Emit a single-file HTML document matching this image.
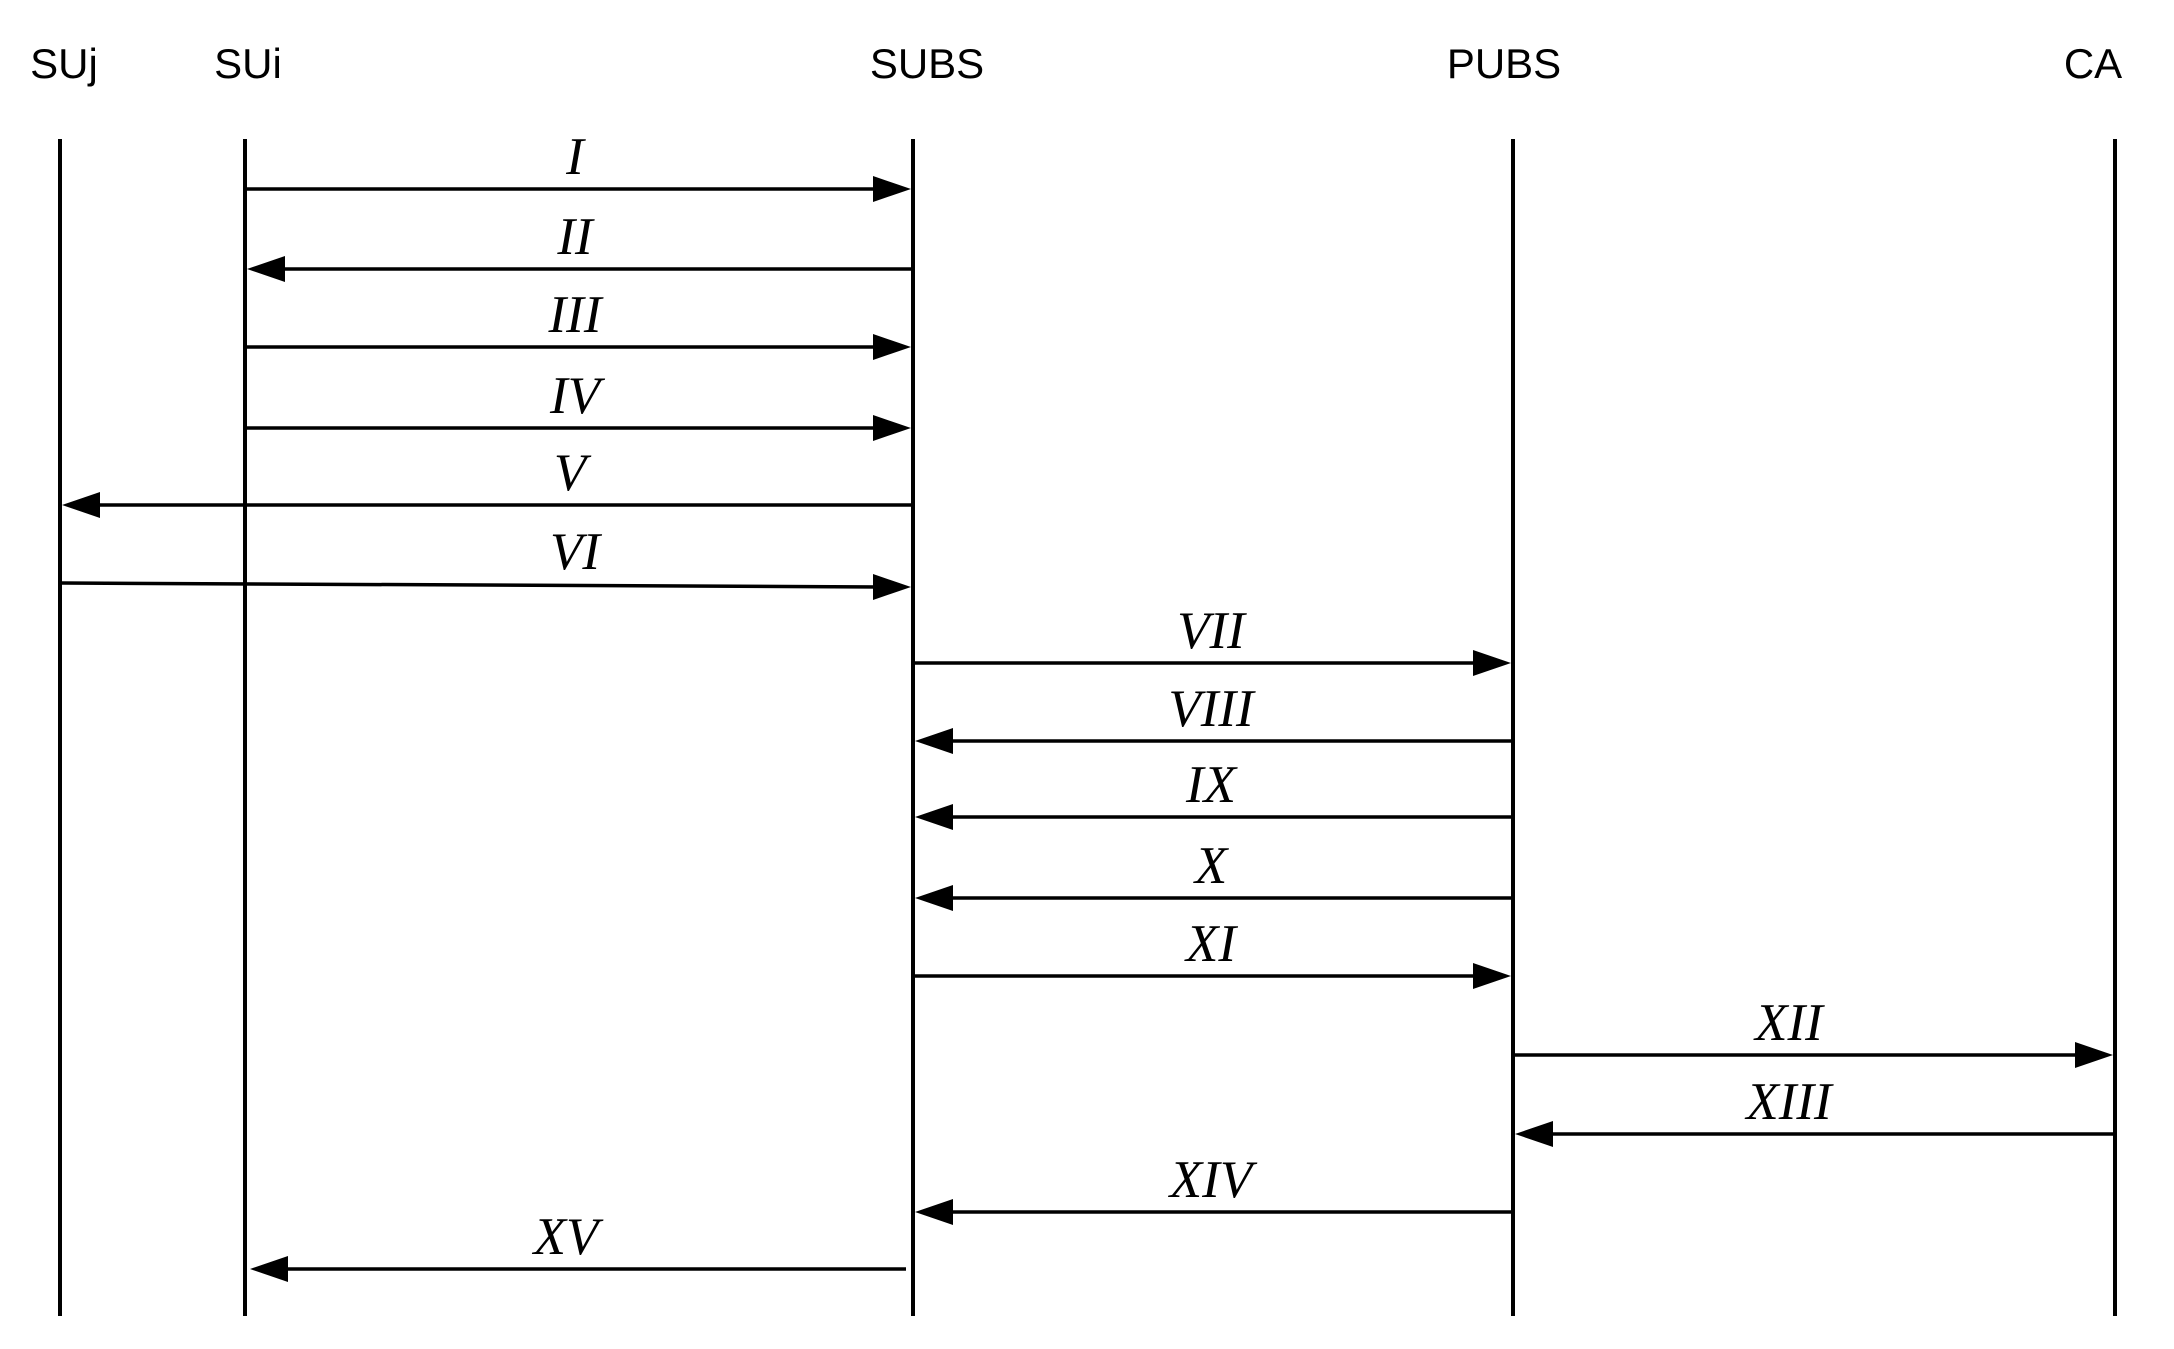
<!DOCTYPE html>
<html><head><meta charset="utf-8"><style>
html,body{margin:0;padding:0;background:#fff;}
svg{display:block;}
.h{font-family:"Liberation Sans",sans-serif;font-size:42px;text-anchor:middle;fill:#000;}
.r{font-family:"Liberation Serif",serif;font-style:italic;font-size:53px;text-anchor:middle;fill:#000;}
</style></head><body>
<svg width="2174" height="1349" viewBox="0 0 2174 1349" xmlns="http://www.w3.org/2000/svg">
<rect width="2174" height="1349" fill="#fff"/>
<text class="h" x="64" y="78">SUj</text>
<text class="h" x="248" y="78">SUi</text>
<text class="h" x="927" y="78">SUBS</text>
<text class="h" x="1504" y="78">PUBS</text>
<text class="h" x="2093" y="78">CA</text>
<g stroke="#000" stroke-width="4">
<line x1="60" y1="139" x2="60" y2="1316"/>
<line x1="245" y1="139" x2="245" y2="1316"/>
<line x1="913" y1="139" x2="913" y2="1316"/>
<line x1="1513" y1="139" x2="1513" y2="1316"/>
<line x1="2115" y1="139" x2="2115" y2="1316"/>
</g>
<g stroke="#000" stroke-width="3.5">
<line x1="245" y1="189" x2="880" y2="189"/>
<line x1="280" y1="269" x2="911" y2="269"/>
<line x1="245" y1="347" x2="880" y2="347"/>
<line x1="245" y1="428" x2="880" y2="428"/>
<line x1="95" y1="505" x2="911" y2="505"/>
<line x1="62" y1="583" x2="880" y2="587"/>
<line x1="913" y1="663" x2="1480" y2="663"/>
<line x1="948" y1="741" x2="1511" y2="741"/>
<line x1="948" y1="817" x2="1511" y2="817"/>
<line x1="948" y1="898" x2="1511" y2="898"/>
<line x1="913" y1="976" x2="1480" y2="976"/>
<line x1="1513" y1="1055" x2="2080" y2="1055"/>
<line x1="1548" y1="1134" x2="2113" y2="1134"/>
<line x1="948" y1="1212" x2="1511" y2="1212"/>
<line x1="283" y1="1269" x2="906" y2="1269"/>
</g>
<g fill="#000">
<polygon points="911,189 873,176 873,202"/>
<polygon points="247,269 285,256 285,282"/>
<polygon points="911,347 873,334 873,360"/>
<polygon points="911,428 873,415 873,441"/>
<polygon points="62,505 100,492 100,518"/>
<polygon points="911,587 873,574 873,600"/>
<polygon points="1511,663 1473,650 1473,676"/>
<polygon points="915,741 953,728 953,754"/>
<polygon points="915,817 953,804 953,830"/>
<polygon points="915,898 953,885 953,911"/>
<polygon points="1511,976 1473,963 1473,989"/>
<polygon points="2113,1055 2075,1042 2075,1068"/>
<polygon points="1515,1134 1553,1121 1553,1147"/>
<polygon points="915,1212 953,1199 953,1225"/>
<polygon points="250,1269 288,1256 288,1282"/>
</g>
<text class="r" x="575" y="174">I</text>
<text class="r" x="575" y="254">II</text>
<text class="r" x="575" y="332">III</text>
<text class="r" x="575" y="413">IV</text>
<text class="r" x="570" y="490">V</text>
<text class="r" x="575" y="569">VI</text>
<text class="r" x="1211" y="648">VII</text>
<text class="r" x="1211" y="726">VIII</text>
<text class="r" x="1211" y="802">IX</text>
<text class="r" x="1211" y="883">X</text>
<text class="r" x="1211" y="961">XI</text>
<text class="r" x="1789" y="1040">XII</text>
<text class="r" x="1789" y="1119">XIII</text>
<text class="r" x="1211" y="1197">XIV</text>
<text class="r" x="566" y="1254">XV</text>
</svg>
</body></html>
